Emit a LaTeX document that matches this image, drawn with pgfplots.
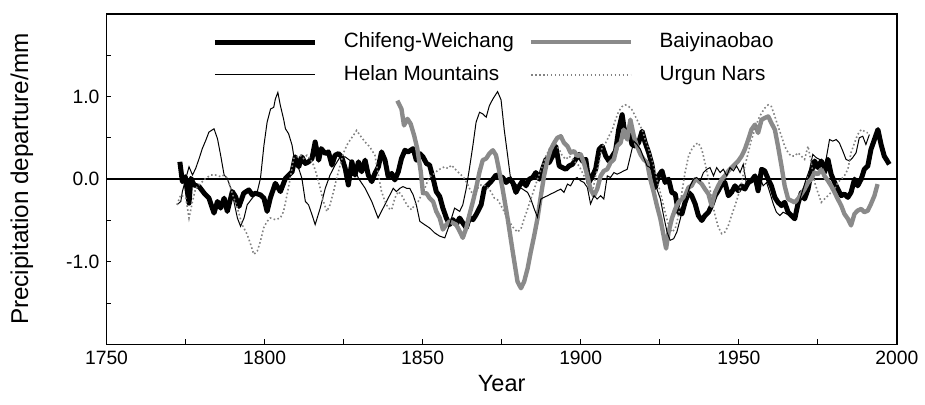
\documentclass[border=0pt]{standalone}
\usepackage{pgfplots}
\pgfplotsset{compat=1.18}
\usepackage{pgfplotstable}
\usepackage{fontspec}
\setmainfont{Liberation Sans}
\definecolor{bgray}{RGB}{138,138,138}
\definecolor{dgray}{RGB}{130,130,130}

\pgfplotstableread{
year val
1773.2 0.21
1774.0 -0.03
1774.9 0.03
1776.1 -0.29
1776.7 0.01
1777.7 -0.07
1779.3 -0.09
1780.9 -0.17
1782.4 -0.23
1784.0 -0.41
1785.1 -0.27
1786.1 -0.35
1787.2 -0.23
1788.2 -0.39
1789.8 -0.15
1790.8 -0.21
1791.9 -0.33
1793.4 -0.17
1795.0 -0.13
1796.1 -0.19
1797.1 -0.17
1798.7 -0.19
1799.8 -0.23
1800.8 -0.39
1801.8 -0.23
1803.4 -0.05
1805.0 -0.15
1806.6 0.01
1808.7 0.09
1809.7 0.27
1810.8 0.15
1811.8 0.27
1812.9 0.19
1813.9 0.21
1815.0 0.25
1816.0 0.45
1817.1 0.23
1817.9 0.37
1819.2 0.31
1820.2 0.33
1821.3 0.17
1822.3 0.29
1823.4 0.31
1824.4 0.27
1825.5 0.13
1826.5 -0.07
1827.6 0.21
1828.6 0.05
1829.7 0.21
1830.7 0.09
1831.8 0.23
1832.8 0.05
1833.9 -0.03
1834.9 0.07
1836.0 0.15
1837.0 0.33
1838.1 0.23
1839.1 0.03
1840.2 0.07
1841.2 -0.01
1842.3 0.09
1843.3 0.25
1844.4 0.35
1845.4 0.33
1847.0 0.37
1848.0 0.23
1849.1 0.31
1850.1 0.27
1851.2 0.19
1852.2 0.17
1853.3 0.01
1854.3 -0.15
1855.4 -0.21
1856.4 -0.35
1857.5 -0.47
1858.5 -0.55
1859.6 -0.49
1860.6 -0.55
1861.7 -0.47
1862.7 -0.53
1863.8 -0.59
1864.8 -0.47
1865.9 -0.49
1866.9 -0.43
1868.5 -0.31
1869.5 -0.11
1870.6 -0.07
1871.6 -0.03
1873.2 0.05
1875.3 0.02
1876.4 -0.04
1877.4 0.00
1878.5 -0.04
1879.5 -0.16
1880.6 -0.08
1881.6 -0.02
1882.7 -0.08
1883.7 0.00
1884.8 0.02
1885.8 0.08
1886.9 0.00
1887.9 0.12
1889.0 0.24
1890.0 0.20
1891.1 0.28
1892.1 0.40
1893.2 0.16
1894.2 0.14
1895.3 0.12
1896.3 0.16
1897.4 0.18
1898.4 0.24
1899.5 0.30
1900.5 0.22
1901.6 0.24
1902.6 -0.04
1903.7 0.04
1904.7 0.12
1905.8 0.36
1906.8 0.40
1907.9 0.28
1908.9 0.22
1910.0 0.28
1911.0 0.34
1912.0 0.60
1913.1 0.78
1914.1 0.52
1915.2 0.60
1916.2 0.42
1917.3 0.40
1918.3 0.44
1919.4 0.58
1920.4 0.44
1921.5 0.32
1922.5 0.18
1923.6 -0.10
1924.6 0.04
1925.7 0.10
1926.7 -0.04
1927.8 0.00
1928.8 -0.16
1929.9 -0.18
1930.9 -0.40
1932.0 -0.42
1933.0 -0.28
1934.1 -0.16
1935.1 -0.20
1936.2 -0.30
1937.2 -0.44
1938.3 -0.50
1939.3 -0.44
1940.4 -0.40
1941.4 -0.32
1942.5 -0.20
1943.5 -0.14
1944.6 -0.06
1945.6 -0.04
1946.7 -0.20
1947.7 -0.16
1948.8 -0.08
1949.8 -0.14
1950.9 -0.08
1951.9 -0.12
1953.0 -0.04
1954.0 -0.02
1955.1 0.04
1956.1 -0.14
1957.2 0.12
1958.2 0.10
1959.3 0.00
1960.3 -0.08
1961.4 -0.22
1962.4 -0.28
1963.5 -0.32
1964.5 -0.28
1965.6 -0.40
1966.6 -0.44
1967.7 -0.48
1968.7 -0.30
1969.8 -0.16
1970.8 -0.24
1971.9 -0.12
1972.9 0.08
1974.0 0.22
1975.0 0.14
1976.1 0.22
1977.1 0.08
1978.2 0.24
1979.2 0.06
1980.3 -0.04
1981.3 -0.12
1982.4 -0.20
1983.4 -0.18
1984.5 -0.22
1985.5 -0.16
1986.6 0.00
1987.6 -0.08
1988.7 0.00
1989.7 0.12
1990.8 0.16
1991.8 0.36
1992.9 0.48
1994.0 0.60
1995.0 0.42
1996.0 0.28
1997.6 0.18
}\chifeng

\pgfplotstableread{
year val
1842.0 0.95
1843.3 0.85
1844.1 0.65
1845.2 0.73
1846.2 0.67
1847.3 0.53
1848.3 0.37
1849.4 0.09
1850.1 -0.17
1851.2 -0.17
1852.2 -0.23
1853.3 -0.27
1854.3 -0.39
1855.4 -0.47
1856.4 -0.61
1857.5 -0.55
1858.5 -0.51
1859.6 -0.53
1860.6 -0.55
1861.7 -0.63
1862.7 -0.71
1863.8 -0.59
1864.8 -0.43
1865.9 -0.27
1866.9 -0.11
1868.0 0.09
1869.0 0.23
1870.1 0.25
1871.1 0.31
1872.2 0.35
1873.2 0.29
1873.9 0.16
1875.3 -0.12
1876.9 -0.48
1878.5 -0.88
1880.0 -1.24
1881.1 -1.32
1882.1 -1.24
1883.2 -1.08
1884.2 -0.88
1885.3 -0.68
1886.3 -0.48
1887.4 -0.20
1888.4 0.04
1889.5 0.24
1890.5 0.36
1891.6 0.44
1892.6 0.50
1893.7 0.52
1894.7 0.44
1895.8 0.40
1896.8 0.32
1897.9 0.34
1898.9 0.28
1900.0 0.30
1901.0 0.20
1902.1 0.04
1903.1 -0.12
1904.2 -0.20
1905.2 -0.12
1906.3 0.04
1907.3 0.10
1908.4 0.12
1909.4 0.20
1910.5 0.24
1911.5 0.40
1912.6 0.44
1913.6 0.60
1914.7 0.48
1915.7 0.72
1916.8 0.52
1917.8 0.40
1918.9 0.30
1919.9 0.24
1921.0 0.20
1922.0 0.00
1923.1 -0.16
1924.1 -0.32
1925.2 -0.48
1926.2 -0.68
1927.0 -0.84
1927.8 -0.64
1928.8 -0.48
1929.9 -0.36
1930.9 -0.28
1932.0 -0.24
1933.0 -0.20
1934.1 -0.10
1935.1 -0.08
1936.2 0.00
1937.2 -0.02
1938.3 -0.06
1939.3 -0.12
1940.4 -0.18
1941.4 -0.32
1942.5 -0.16
1943.5 -0.08
1944.6 0.00
1945.6 0.04
1946.7 0.10
1947.7 0.14
1948.8 0.18
1949.8 0.22
1950.9 0.28
1951.9 0.36
1953.0 0.48
1954.0 0.60
1955.1 0.66
1956.1 0.56
1957.2 0.72
1958.2 0.74
1959.3 0.76
1960.3 0.68
1961.4 0.60
1962.4 0.40
1963.5 0.16
1964.5 -0.08
1965.6 -0.24
1966.6 -0.26
1967.7 -0.28
1968.7 -0.24
1969.8 -0.18
1970.8 -0.12
1971.9 -0.04
1972.9 0.00
1974.0 0.08
1975.0 0.06
1976.1 0.12
1977.1 0.04
1978.2 -0.02
1979.2 -0.08
1980.3 -0.16
1981.3 -0.24
1982.4 -0.32
1983.4 -0.42
1984.5 -0.48
1985.5 -0.56
1986.6 -0.42
1987.6 -0.38
1988.7 -0.36
1989.7 -0.40
1990.8 -0.38
1991.8 -0.30
1992.9 -0.20
1993.9 -0.06
}\baiyin

\pgfplotstableread{
year val
1772.3 -0.31
1773.5 -0.27
1774.0 -0.15
1775.1 0.01
1776.1 0.15
1777.2 0.05
1778.2 0.13
1779.3 0.25
1780.3 0.37
1781.4 0.47
1782.4 0.57
1784.0 0.61
1785.1 0.49
1786.1 0.29
1787.2 0.05
1788.2 0.01
1789.3 -0.11
1790.3 -0.27
1791.4 -0.47
1792.4 -0.57
1793.5 -0.47
1794.5 -0.31
1796.1 -0.23
1797.7 -0.15
1798.7 0.01
1799.8 0.41
1800.8 0.69
1801.9 0.85
1802.9 0.87
1803.4 0.97
1804.2 1.05
1805.0 0.89
1806.0 0.73
1806.6 0.61
1807.6 0.55
1808.7 0.41
1809.7 0.17
1810.8 0.13
1811.8 0.01
1812.9 -0.27
1813.9 -0.31
1815.0 -0.43
1816.0 -0.55
1817.6 -0.35
1819.2 -0.11
1820.7 0.05
1822.3 0.17
1823.9 0.27
1825.5 0.27
1827.6 0.21
1829.7 0.01
1831.8 -0.11
1833.9 -0.27
1835.9 -0.47
1837.5 -0.35
1839.1 -0.23
1840.7 -0.11
1841.7 -0.15
1842.8 -0.11
1843.8 -0.09
1844.9 -0.11
1845.9 -0.11
1847.0 -0.19
1848.0 -0.31
1849.1 -0.51
1850.6 -0.55
1852.2 -0.59
1853.8 -0.65
1855.4 -0.69
1857.0 -0.71
1858.5 -0.55
1860.1 -0.35
1861.7 -0.39
1862.7 -0.31
1863.8 -0.11
1864.8 0.13
1865.9 0.41
1866.9 0.69
1868.0 0.81
1869.0 0.79
1870.1 0.75
1871.1 0.89
1872.2 0.97
1873.2 1.03
1873.7 1.06
1874.8 0.96
1875.8 0.60
1876.9 0.28
1877.7 0.04
1879.0 -0.04
1880.0 -0.08
1881.6 -0.12
1883.2 -0.16
1884.2 -0.24
1885.3 -0.36
1886.3 -0.46
1887.4 -0.24
1888.4 -0.22
1889.5 -0.20
1890.5 -0.18
1891.6 -0.16
1892.6 -0.14
1893.7 -0.12
1894.7 -0.16
1895.8 -0.06
1896.8 -0.08
1897.9 0.00
1898.9 0.02
1900.0 -0.02
1901.0 -0.04
1902.1 -0.10
1903.1 -0.30
1904.2 -0.20
1905.2 -0.24
1906.3 -0.20
1907.3 -0.24
1908.4 0.04
1909.4 0.02
1910.5 0.08
1911.5 0.06
1912.6 0.08
1913.6 0.10
1914.7 0.12
1915.7 0.28
1916.8 0.46
1917.8 0.42
1918.9 0.36
1919.9 0.26
1921.0 0.16
1922.0 0.14
1923.1 0.04
1924.1 -0.12
1925.2 -0.24
1926.2 -0.44
1927.3 -0.64
1928.3 -0.74
1929.4 -0.72
1930.4 -0.64
1931.5 -0.48
1932.5 -0.32
1933.6 -0.20
1934.6 -0.08
1935.7 0.00
1936.7 0.02
1937.8 -0.02
1938.8 0.08
1939.9 0.12
1940.9 0.14
1942.0 0.04
1943.0 0.14
1944.1 0.08
1945.1 0.12
1946.2 0.04
1947.2 0.14
1948.3 0.10
1949.3 0.16
1950.4 0.08
1951.4 0.18
1952.5 -0.08
1953.5 -0.02
1954.6 0.00
1955.6 -0.04
1956.7 0.02
1957.7 -0.08
1958.8 -0.04
1959.8 -0.16
1960.9 -0.30
1961.9 -0.40
1963.0 -0.44
1964.0 -0.40
1965.1 -0.42
1966.1 -0.44
1967.1 -0.46
1968.2 -0.38
1969.2 -0.26
1970.3 -0.12
1971.3 0.00
1972.4 0.12
1973.4 0.30
1974.5 0.26
1975.5 0.24
1976.6 0.14
1977.6 0.24
1978.7 0.48
1979.7 0.46
1980.8 0.48
1981.8 0.44
1982.9 0.34
1983.9 0.24
1985.0 0.22
1986.0 0.26
1987.1 0.32
1988.1 0.50
1989.2 0.52
1990.2 0.42
1991.3 0.54
}\helan

\pgfplotstableread{
year val
1772.3 -0.31
1773.5 -0.19
1775.1 -0.23
1776.1 -0.47
1777.2 -0.27
1778.2 -0.11
1779.3 -0.07
1780.3 -0.03
1781.4 0.01
1783.0 0.05
1784.5 0.05
1786.1 0.03
1787.2 0.05
1788.2 0.01
1789.3 -0.11
1790.3 -0.23
1791.4 -0.35
1792.9 -0.55
1794.5 -0.67
1795.6 -0.79
1796.6 -0.91
1797.7 -0.87
1798.7 -0.75
1799.7 -0.59
1800.8 -0.51
1801.8 -0.47
1803.4 -0.49
1805.0 -0.47
1806.0 -0.39
1807.1 -0.19
1808.1 0.01
1809.2 0.25
1810.3 0.27
1811.3 0.29
1812.3 0.25
1813.4 0.29
1814.4 0.25
1815.5 0.17
1816.5 0.05
1817.6 -0.11
1818.6 -0.27
1819.7 -0.39
1820.7 -0.31
1821.8 -0.15
1822.8 0.01
1823.9 0.17
1824.9 0.31
1826.0 0.41
1827.0 0.47
1828.1 0.53
1829.1 0.59
1830.2 0.53
1831.8 0.45
1833.3 0.39
1834.9 0.29
1836.0 0.05
1837.0 -0.15
1838.1 -0.27
1839.1 -0.35
1840.2 -0.37
1841.2 -0.23
1842.3 -0.15
1843.3 -0.19
1844.4 -0.27
1845.4 -0.33
1846.5 -0.37
1847.5 -0.31
1848.6 -0.27
1849.6 -0.19
1850.7 -0.11
1851.7 -0.01
1852.8 0.05
1853.8 0.07
1854.8 0.11
1855.9 0.13
1856.9 0.15
1858.0 0.13
1859.1 0.17
1860.1 0.13
1861.1 0.09
1862.2 0.05
1863.2 0.01
1864.3 -0.07
1865.3 -0.15
1866.4 -0.19
1867.4 -0.11
1868.5 -0.07
1869.5 -0.07
1870.6 -0.11
1871.6 -0.15
1872.7 -0.23
1873.7 -0.25
1874.8 -0.32
1876.9 -0.48
1878.5 -0.58
1880.0 -0.64
1881.1 -0.60
1882.1 -0.48
1883.2 -0.36
1884.2 -0.24
1885.3 -0.12
1886.3 0.00
1887.9 0.16
1889.0 0.28
1890.0 0.36
1891.1 0.40
1892.1 0.42
1893.2 0.36
1894.2 0.28
1895.3 0.24
1896.3 0.28
1897.4 0.24
1898.4 0.20
1899.5 0.16
1900.5 0.08
1901.6 0.00
1902.6 -0.12
1903.7 -0.16
1904.7 0.04
1905.8 0.20
1906.8 0.40
1907.9 0.44
1908.9 0.52
1910.0 0.60
1911.0 0.72
1912.0 0.82
1913.1 0.88
1914.1 0.90
1915.2 0.88
1916.2 0.84
1917.3 0.76
1918.3 0.68
1919.4 0.60
1920.4 0.48
1921.5 0.36
1922.5 0.24
1923.6 0.08
1924.6 -0.08
1925.7 -0.24
1926.7 -0.40
1927.8 -0.56
1928.8 -0.64
1929.9 -0.60
1930.9 -0.44
1932.0 -0.16
1933.0 0.08
1934.1 0.28
1935.1 0.36
1936.2 0.42
1937.2 0.44
1938.3 0.36
1939.3 0.20
1940.4 0.00
1941.4 -0.24
1942.5 -0.44
1943.5 -0.58
1944.6 -0.66
1945.6 -0.64
1946.7 -0.56
1947.7 -0.44
1948.8 -0.32
1949.8 -0.20
1950.9 -0.04
1951.9 0.16
1953.0 0.32
1954.0 0.48
1955.1 0.60
1956.1 0.72
1957.2 0.80
1958.2 0.86
1959.3 0.90
1960.3 0.88
1961.4 0.76
1962.4 0.64
1963.5 0.52
1964.5 0.40
1965.6 0.32
1966.6 0.28
1967.7 0.28
1968.7 0.32
1969.8 0.28
1970.8 0.24
1971.9 0.40
1972.9 0.20
1974.0 -0.04
1975.0 -0.16
1976.1 -0.28
1977.1 -0.24
1978.2 -0.20
1979.2 -0.16
1980.3 -0.12
1981.3 -0.04
1982.4 0.00
1983.4 0.04
1984.5 0.12
1985.5 0.32
1986.6 0.44
1987.6 0.54
1988.7 0.60
1989.7 0.58
1990.8 0.56
}\urgun

\begin{document}
\begin{tikzpicture}
\begin{axis}[
  scale only axis,
  width=397pt, height=166pt,
  xmin=1750, xmax=2000, ymin=-2, ymax=2,
  xtick={1750,1800,1850,1900,1950,2000},
  minor xtick={1775,1825,1875,1925,1975},
  ytick={-1,0,1},
  minor ytick={-1.5,-0.5,0.5,1.5},
  xtick pos=bottom, ytick pos=left,
  tick align=inside,
  major tick length=2.5pt, minor tick length=2.5pt,
  tick style={black, line width=0.6pt},
  axis line style={line width=0.7pt},
  /pgf/number format/assume math mode=true,
  xticklabel style={/pgf/number format/set thousands separator={}, font=\fontsize{9.7}{11}\selectfont},
  yticklabel style={/pgf/number format/fixed, /pgf/number format/fixed zerofill, /pgf/number format/precision=1, font=\fontsize{9.7}{11}\selectfont},
  scaled y ticks=false,
  xlabel={Year},
  ylabel={Precipitation departure/mm},
  xlabel style={font=\fontsize{11.8}{13}\selectfont, at={(axis description cs:0.5,-0.1175)}, anchor=center},
  ylabel style={font=\fontsize{12.2}{13}\selectfont, at={(axis description cs:-0.107,0.5)}, anchor=center},
  legend columns=2,
  legend cell align=left,
  legend style={draw=none, fill=none, inner sep=0pt,
    at={(axis cs:1783.4,1.46)}, anchor=west,
    font=\fontsize{10.4}{12}\selectfont,
    row sep=3pt,
    nodes={inner sep=1.5pt, text height=8pt, text depth=2.5pt},
    /tikz/every odd column/.append style={column sep=12pt},
    /tikz/every even column/.append style={column sep=6pt}},
  legend image code/.code={\draw[#1] (0pt,0pt) -- (50pt,0pt);},
]
\addplot[black, line width=0.7pt, forget plot] coordinates {(1750,0) (2000,0)};
\addplot[black, line width=2.5pt, line join=round] table[x=year,y=val] {\chifeng};
\addlegendentry{Chifeng-Weichang}
\addplot[bgray, line width=2.2pt, line join=round] table[x=year,y=val] {\baiyin};
\addlegendentry{Baiyinaobao}
\addplot[black, line width=0.5pt] table[x=year,y=val] {\helan};
\addlegendentry{Helan Mountains}
\addplot[dgray, line width=0.8pt, dash pattern=on 0.8pt off 1.2pt] table[x=year,y=val] {\urgun};
\addlegendentry{Urgun Nars}
\end{axis}
\path (current axis.south west) ++(-53.5pt,-30pt);
\path (current axis.north east) ++(12pt,7pt);
\end{tikzpicture}
\end{document}
